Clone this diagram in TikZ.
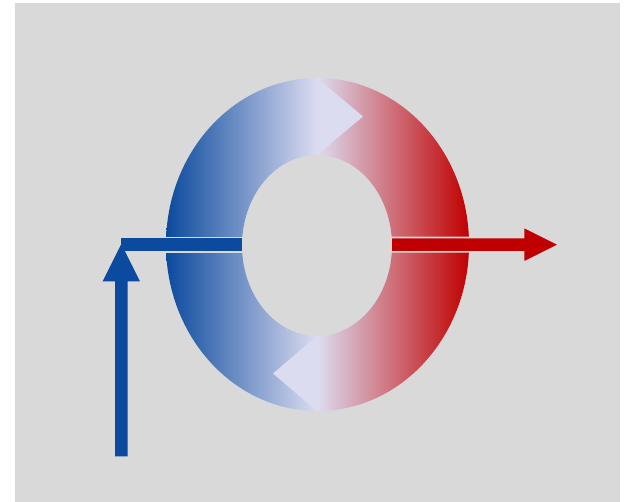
\documentclass[tikz,border=0pt]{standalone}
\usepackage{xcolor}
\usepackage{tikz}
\usetikzlibrary{arrows.meta}

\definecolor{bggray}{HTML}{D9D9D9}
\definecolor{coldblue}{HTML}{0B4A9E}
\definecolor{hotred}{HTML}{C00000}
\definecolor{midlav}{HTML}{DCDCF0}

\tikzset{
  flowbar/.style={draw=bggray, line width=0.9pt},
}

\begin{document}
\begin{tikzpicture}[x=0.02cm, y=-0.02cm]
        \useasboundingbox (0,0) rectangle (625,502);
        \fill[bggray] (15,3) rectangle (620,502);
        % the ring, blue to red
        \shade[left color=coldblue, right color=hotred, middle color=midlav, even odd rule]
            (317.5,244.5) ellipse [x radius=151.5, y radius=166.5]
            (317,245.5) ellipse [x radius=75, y radius=90.5];
        \fill[midlav] (317,78) -- (363,116.5) -- (317,155) -- cycle;
        \fill[midlav] (317,336) -- (273,373.5) -- (317,411) -- cycle;
        % cold side, coming in
        \fill[coldblue] (121,237.5) rectangle (242.5,251.8);
        \draw[flowbar] (121,237.5) -- (242.5,237.5) -- (242.5,251.8) -- (121,251.8);
        \fill[coldblue] (115,456.5) -- (127.5,456.5) -- (127.5,281.5) -- (140,281.5)
            -- (121.3,244) -- (102.5,281.5) -- (115,281.5) -- cycle;
        % hot side, going out
        \draw[flowbar, fill=hotred] (391,237.5) -- (523.5,237.5) -- (523.5,227) -- (559,244.7)
            -- (523.5,262.5) -- (523.5,251.8) -- (391,251.8) -- cycle;
\end{tikzpicture}
\end{document}
